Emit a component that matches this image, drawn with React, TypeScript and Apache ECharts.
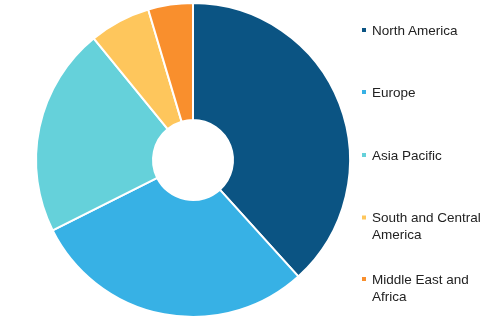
import React, { useEffect, useRef } from "react";
import * as echarts from "echarts";

const regions = ["North America", "Europe", "Asia Pacific", "South and Central America", "Middle East and Africa"];
const shares = [38.3, 29.3, 21.5, 6.3, 4.6];
const colors = ["#0b5483", "#37b1e5", "#65d1da", "#fec65c", "#f98f2d"];
const legendLabels = ["North America", "Europe", "Asia Pacific", "South and Central\nAmerica", "Middle East and\nAfrica"];
const legendTops = [21.5, 83.5, 146.5, 209, 270.5];

export default function App() {
  const ref = useRef<HTMLDivElement>(null);
  useEffect(() => {
    const chart = echarts.init(ref.current!, undefined, { renderer: "svg" });
    const legends = regions.map((name, i) => {
      const multi = legendLabels[i].includes("\n");
      return {
        show: true,
        orient: "vertical",
        left: 360,
        top: legendTops[i],
        padding: 0,
        itemWidth: 6,
        itemHeight: multi ? 23 : 6,
        icon: multi ? "path://M0,0L6,0L6,6L0,6ZM0,23L0.01,23L0.01,23.01Z" : "rect",
        data: [name],
        selectedMode: false,
        formatter: () => legendLabels[i],
        textStyle: {
          fontFamily: "Liberation Sans, Arial, sans-serif",
          fontSize: 13.5,
          color: "#222",
          lineHeight: 17,
        },
      };
    });
    chart.setOption({
      animation: false,
      color: colors,
      legend: legends,
      series: [
        {
          type: "pie",
          center: [193, 160],
          radius: [40, 157],
          startAngle: 90,
          clockwise: true,
          label: { show: false },
          labelLine: { show: false },
          itemStyle: { borderColor: "#fff", borderWidth: 2 },
          emphasis: { disabled: true },
          data: regions.map((name, i) => ({ name, value: shares[i] })),
        },
      ],
    });
    return () => chart.dispose();
  }, []);
  return <div ref={ref} style={{ position: "fixed", left: 0, top: 0, width: 500, height: 330 }} />;
}
